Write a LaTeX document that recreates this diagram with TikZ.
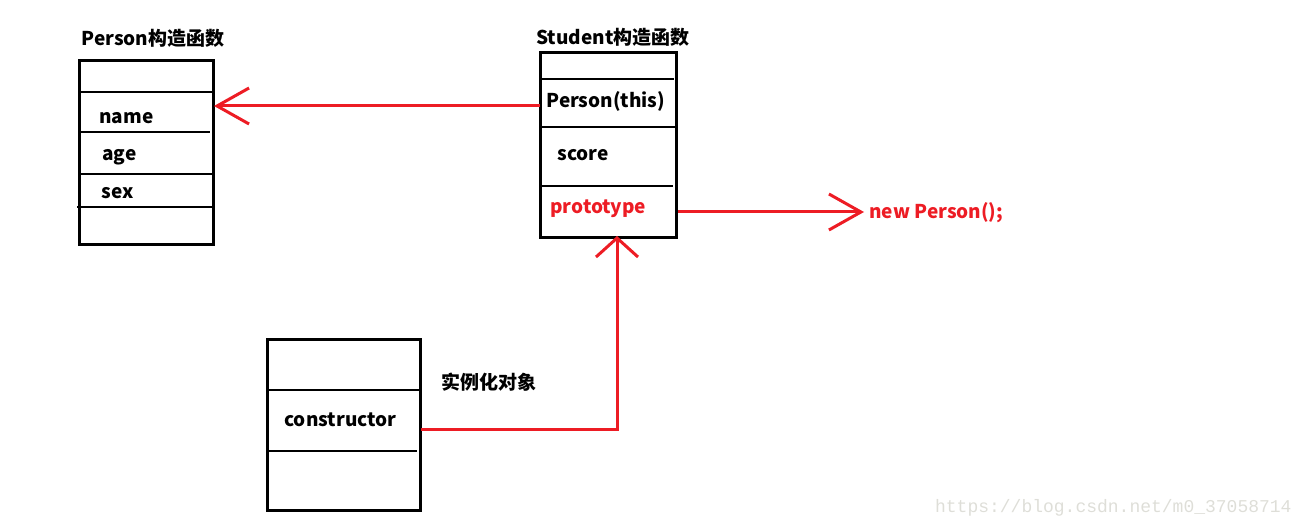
\documentclass[tikz,border=0pt]{standalone}
\usepackage{fontspec}
\usepackage{xcolor}
\usepackage{tikz}
\usetikzlibrary{arrows.meta, positioning}
\newfontfamily\cjk{Noto Sans CJK SC}
\newfontfamily\wmfont{Liberation Mono}
\definecolor{paintred}{RGB}{237,28,36}
\definecolor{wmgray}{RGB}{222,222,216}

\begin{document}
\begin{tikzpicture}[
            x=0.5pt, y=-0.5pt,
            box/.style={rectangle, draw=black, line width=1.5pt, inner sep=0pt},
            sep/.style={draw=black, line width=1pt},
            lbl/.style={font=\cjk\bfseries\fontsize{9.5}{11}\selectfont, inner sep=0pt, anchor=west},
            redlbl/.style={lbl, text=paintred},
            redline/.style={draw=paintred, line width=1.5pt},
            redarrow/.style={redline, -{Straight Barb[length=16pt, width=18pt, line width=1.5pt]}},
            uparrow/.style={redline, -{Straight Barb[length=9.5pt, width=21pt, line width=1.5pt]}},
            ]
            \useasboundingbox (0,0) rectangle (1303,529);

            % Person
            \node[box, minimum width=67pt, minimum height=92pt] (person) at (146,153) {};
            \node[lbl, anchor=center] (ptitle) at (153,38) {Person构造函数};
            \draw[sep] (79,92) -- (213,92);
            \draw[sep] (79,132) -- (210,132);
            \draw[sep] (79,174) -- (212,174);
            \draw[sep] (77,207) -- (212,207);
            \node[lbl] (name) at (99,118) {name};
            \node[lbl] (age) at (102,157) {age};
            \node[lbl] (sex) at (101,193) {sex};

            % Student
            \node[box, minimum width=68pt, minimum height=92.5pt] (student) at (608,145.5) {};
            \node[lbl, anchor=center] (stitle) at (613,37) {Student构造函数};
            \draw[sep] (540,79) -- (674,79);
            \draw[sep] (540,127) -- (676,127);
            \draw[sep] (540,186) -- (673,186);
            \node[lbl] (pthis) at (546,101) {Person(this)};
            \node[lbl] (score) at (557,155) {score};
            \node[redlbl] (proto) at (550,209) {prototype};

            % instance
            \node[box, minimum width=76.5pt, minimum height=85.5pt] (inst) at (343.5,425.5) {};
            \draw[sep] (267,390) -- (420,390);
            \draw[sep] (268,451) -- (417,451);
            \node[lbl] (ctor) at (284,420) {constructor};
            \node[lbl] (shili) at (441,382) {实例化对象};

            \node[redlbl] (newp) at (869,213) {new Person();};

            \coordinate (pthisout) at (540,106);
            \coordinate (namein) at (214,106);
            \coordinate (protoout) at (678,212);
            \coordinate (newpin) at (864,212);
            \coordinate (ctorout) at (421,430);
            \coordinate (protoin) at (617,236);

            \draw[redarrow] (pthisout) -- (namein);
            \draw[redarrow] (protoout) -- (newpin);
            \draw[uparrow] (ctorout) -| (protoin);

            \node[font=\wmfont\fontsize{9}{10}\selectfont, text=wmgray, inner sep=0pt, anchor=east] (wm) at (1292,508) {https://blog.csdn.net/m0\_37058714};
        \end{tikzpicture}
\end{document}
